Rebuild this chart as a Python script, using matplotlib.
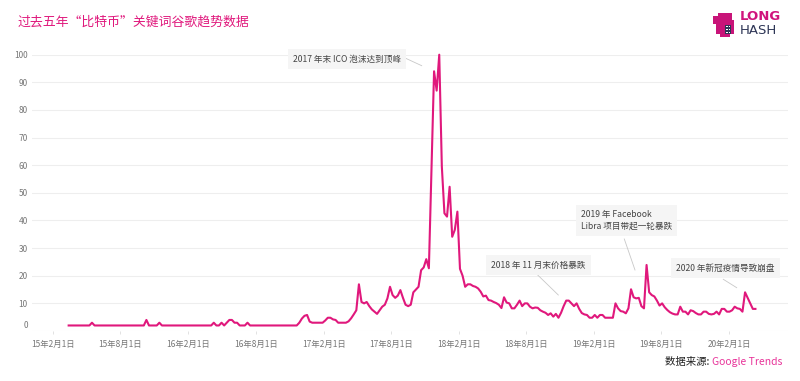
import numpy as np
import pandas as pd
import matplotlib
matplotlib.use("Agg")
import matplotlib.pyplot as plt
from matplotlib.patches import Rectangle

plt.rcParams['font.family'] = ['Noto Sans CJK SC', 'DejaVu Sans']

# weekly Google Trends values, starting 2015-03-15
vals_2015_2016 = [2, 2, 2, 2, 2, 2, 2, 2, 2, 3, 2, 2, 2, 2, 2, 2, 2, 2, 2, 2,
                  2, 2, 2, 2, 2, 2, 2, 2, 2, 2, 4, 2, 2, 2, 2, 3, 2, 2, 2, 2,
                  2, 2, 2, 2, 2, 2, 2, 2, 2, 2, 2, 2, 2, 2, 2, 2, 3, 2, 2, 3,
                  2, 3, 4, 4, 3, 3, 2, 2, 2, 3, 2, 2, 2, 2, 2, 2, 2, 2, 2, 2,
                  2, 2, 2, 2, 2, 2, 2, 2]
vals_2017 = [2, 3, 4.5, 5.5, 5.8, 3.4, 3, 3, 3, 3, 3, 3.8, 4.8, 4.8, 4.2, 4,
             3, 3, 3, 3, 3.5, 4.6, 6, 7.5, 16.9, 10.5, 10, 10.5, 9, 7.8, 7,
             6.2, 7.5, 8.8, 9.5, 11.8, 16, 13, 12, 12.8, 14.8, 12, 9.5, 9,
             9.5, 14, 15, 16, 22, 23, 26, 22.7, 58, 94, 87, 100]
vals_2018 = [59.5, 42.6, 41.4, 52.2, 34.1, 36.6, 43.2, 22.5, 20, 16, 16.9,
             16.9, 16.3, 16, 15.4, 14.2, 12.5, 12.8, 11.2, 11, 10.5, 10.1,
             9.5, 8.3, 12.2, 10.3, 10, 8.2, 8.2, 9.5, 11, 9, 10, 10, 8.8,
             8.2, 8.5, 8.4, 7.5, 7, 6.6, 5.8, 6.4, 5.2, 6.2, 4.8, 6.6, 9,
             11, 11, 10, 9, 10, 8, 6.5, 6]
vals_2019_2020 = [5.8, 4.8, 4.8, 5.8, 4.8, 5.8, 5.8, 4.8, 4.8, 4.8, 4.8, 10,
                  8.2, 7.2, 7, 6.4, 8.2, 15.1, 12.2, 11.8, 12, 9, 8.2, 23.9,
                  14, 13, 12.5, 11, 9.2, 10, 8.6, 7.6, 6.8, 6.3, 6, 6, 8.8,
                  7, 7, 6, 7.5, 7.2, 6.5, 6, 6, 7, 7, 6.2, 6, 6.2, 7, 6, 8,
                  8, 7, 7, 7.5, 8.8, 8.2, 8, 7, 14, 12, 10, 8, 8]
values = vals_2015_2016 + vals_2017 + vals_2018 + vals_2019_2020
dates = pd.date_range('2015-03-15', periods=len(values), freq='7D')

tick_dates = pd.to_datetime(['2015-02-01', '2015-08-01', '2016-02-01', '2016-08-01',
                             '2017-02-01', '2017-08-01', '2018-02-01', '2018-08-01',
                             '2019-02-01', '2019-08-01', '2020-02-01'])
tick_labels = ['15年2月1日', '15年8月1日', '16年2月1日', '16年8月1日', '17年2月1日',
               '17年8月1日', '18年2月1日', '18年8月1日', '19年2月1日', '19年8月1日',
               '20年2月1日']

notes = ['2017 年末 ICO 泡沫达到顶峰', '2018 年 11 月末价格暴跌',
         '2019 年 Facebook\nLibra 项目带起一轮暴跌', '2020 年新冠疫情导致崩盘']

pink = '#e0187c'
W, H = 800, 381


def px(x, y):
    return x / W, 1 - y / H


fig = plt.figure(figsize=(8, 3.81), dpi=100)
ax = fig.add_axes([32 / W, 1 - 331 / H, (788 - 32) / W, (331 - 54.7) / H])

ax.plot(dates, values, color=pink, lw=1.5, clip_on=False, zorder=3)

ax.set_xlim(pd.Timestamp('2014-12-06'), pd.Timestamp('2020-07-09'))
ax.set_ylim(0, 100)
ax.set_yticks(range(0, 101, 10))
ax.set_yticklabels([''] + [str(v) for v in range(10, 101, 10)])
ax.annotate('0', xy=(0, 0), xycoords=('axes fraction', 'data'),
            xytext=(-3, 4), textcoords='offset points', ha='right', va='center',
            fontsize=6, color='#777777')
ax.set_xticks(tick_dates)
ax.set_xticklabels(tick_labels)
ax.tick_params(axis='y', length=0, pad=3, labelsize=6, labelcolor='#777777')
ax.tick_params(axis='x', length=2.5, width=0.6, color='#dddddd', pad=4,
               labelsize=6, labelcolor='#777777')
ax.grid(axis='y', color='#eeeeee', lw=0.8)
ax.set_axisbelow(True)
for s in ax.spines.values():
    s.set_visible(False)

# title
fig.text(*px(18, 22), '过去五年“比特币”关键词谷歌趋势数据', fontsize=9.3,
         color=pink, va='center', ha='left')

# logo
for (x0, y0, w, h) in [(718, 13, 14, 7), (713, 16, 5, 8), (716, 20, 18, 14), (720, 33, 10, 4)]:
    fig.add_artist(Rectangle(px(x0, y0 + h), w / W, h / H, transform=fig.transFigure,
                             color='#c81479', lw=0))
fig.add_artist(Rectangle(px(725, 34), 6 / W, 9 / H, transform=fig.transFigure,
                         color='#2e3656', lw=0))
for yy in (27, 30, 33):
    fig.add_artist(Rectangle(px(726, yy), 1.5 / W, 1.3 / H, transform=fig.transFigure,
                             color='white', lw=0))
    fig.add_artist(Rectangle(px(728.5, yy), 1.5 / W, 1.3 / H, transform=fig.transFigure,
                             color='white', lw=0))
fig.text(*px(740, 17), 'LONG', fontsize=9.5, fontweight='bold', color='#d0147c',
         va='center', ha='left', family='DejaVu Sans')
fig.text(*px(740, 31), 'HASH', fontsize=9.5, color='#2e3656', va='center',
         ha='left', family='DejaVu Sans')

# annotations
note_pos = [(293, 59), (491, 265), (581, 220.5), (676, 268)]
leaders = [((405.7, 58.3), (421.7, 65.7)), ((537.7, 275), (558.3, 295)),
           ((624.3, 239), (635, 270)), ((723.3, 279.3), (736.7, 287.7))]
for txt, (x, y), (p0, p1) in zip(notes, note_pos, leaders):
    fig.text(*px(x, y), txt, fontsize=6.2, color='#444444', va='center', ha='left',
             linespacing=1.35,
             bbox=dict(boxstyle='square,pad=0.6', fc='#f5f5f5', ec='none'))
    (fx0, fy0), (fx1, fy1) = px(*p0), px(*p1)
    fig.add_artist(plt.Line2D([fx0, fx1], [fy0, fy1], color='#c8c8c8', lw=0.6,
                              transform=fig.transFigure))

# source
t = fig.text(*px(665, 362), '数据来源: ', fontsize=7.5, color='#222222',
             va='center', ha='left')
fig.canvas.draw()
bb = t.get_window_extent()
fig.text(bb.x1 / W, 1 - 362 / H, 'Google Trends', fontsize=7.5, color='#e8359a',
         va='center', ha='left')

fig.savefig('out.png', dpi=100)
